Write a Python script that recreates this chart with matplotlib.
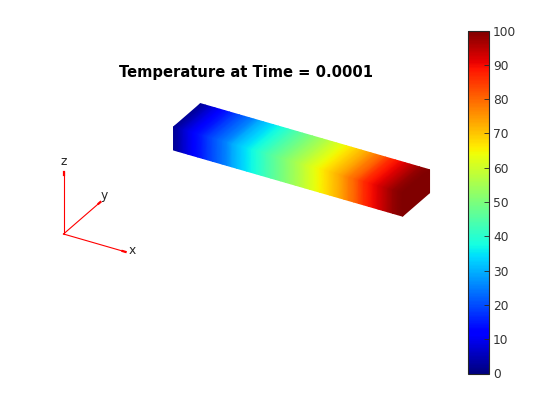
import numpy as np
import matplotlib
matplotlib.use("Agg")
import matplotlib.pyplot as plt
from mpl_toolkits.mplot3d import proj3d

# Temperature at evenly spaced stations
temperature = [2, 4, 7, 9, 12, 14, 16, 18, 20, 22, 24, 26, 29, 31, 33, 35, 37, 39, 41, 43,
               45, 47, 49, 51, 53, 55, 57, 59, 61, 63, 65, 67, 69, 71, 73, 75, 78, 80, 83,
               86, 88, 90, 92, 94, 96, 98, 99, 100]
cbar_ticks = [0, 10, 20, 30, 40, 50, 60, 70, 80, 90, 100]
title_text = "Temperature at Time = 0.0001"
axis_names = ["x", "y", "z"]

# Bar extents in the triad's units
BAR_X = (0.166, 3.745)
BAR_Y = (2.69, 3.42)
BAR_Z = (0.015, 0.375)

ELEV, AZIM = 30, -60
TARGET_ORIGIN = (63.5, 420 - 234.0)   # pixels from bottom-left
TARGET_Z_LEN = 64.0
TRIAD_TIPS = [0.97, 1.0, 0.97]

cmap = plt.get_cmap("jet", 256)
norm = matplotlib.colors.Normalize(0, 100)

fig = plt.figure(figsize=(5.6, 4.2), dpi=100)
pos0 = [-0.3, -0.4, 1.6, 1.8]
ax = fig.add_axes(pos0, projection="3d", proj_type="ortho")
ax.view_init(elev=ELEV, azim=AZIM)
ax.set_xlim(-2, 6); ax.set_ylim(-2, 6); ax.set_zlim(-4, 4)
ax.set_xticks([]); ax.set_yticks([]); ax.set_zticks([])
ax.set_axis_off()
ax.patch.set_alpha(0)

# Direction triad
for i, name in enumerate(axis_names):
    tip = np.zeros(3); tip[i] = TRIAD_TIPS[i]
    ax.plot(*[[0, v] for v in tip], color="red", lw=0.8)
    ax.plot(*[[0.95 * v, v] for v in tip], color="red", lw=1.6)

label_at = [(1.07, 0, 0.055), (0, 1.09, 0.055), (0, 0, 1.14)]
for name, p in zip(axis_names, label_at):
    ax.text(*p, name, fontsize=8.8, color="#262626", ha="center", va="center")

# Fit scale and position of the 3D axes to the reference pixels
def to_px(x, y, z):
    px, py, _ = proj3d.proj_transform(x, y, z, ax.get_proj())
    return ax.transData.transform(np.column_stack([np.ravel(px), np.ravel(py)]))

zoom = 1.0
for _ in range(3):
    ax.set_box_aspect((1, 1, 1), zoom=zoom)
    ax.apply_aspect()
    ln = np.hypot(*(to_px(0, 0, 1)[0] - to_px(0, 0, 0)[0]))
    zoom *= TARGET_Z_LEN / ln
ax.set_box_aspect((1, 1, 1), zoom=zoom)
ax.apply_aspect()
o = to_px(0, 0, 0)[0]
dx = (TARGET_ORIGIN[0] - o[0]) / 560
dy = (TARGET_ORIGIN[1] - o[1]) / 420
ax.set_position([pos0[0] + dx, pos0[1] + dy, pos0[2], pos0[3]])
ax.apply_aspect()

# Bar faces: projected through the 3D view, then shaded smoothly on a pixel-scaled overlay
overlay = fig.add_axes([0, 0, 1, 1])
overlay.set_xlim(0, 560); overlay.set_ylim(0, 420)
overlay.set_axis_off()
overlay.patch.set_alpha(0)

T = np.asarray(temperature, dtype=float)
xs = np.linspace(BAR_X[0], BAR_X[1], len(T))

def face(X, Y, Z, C):
    shape = X.shape
    p = to_px(X.ravel(), Y.ravel(), Z.ravel())
    overlay.pcolormesh(p[:, 0].reshape(shape), p[:, 1].reshape(shape), C,
                       shading="gouraud", cmap=cmap, norm=norm, antialiased=False)

C = np.vstack([T, T])
X, Y = np.meshgrid(xs, BAR_Y)
face(X, Y, np.full_like(X, BAR_Z[1]), C)
X, Z = np.meshgrid(xs, BAR_Z)
face(X, np.full_like(X, BAR_Y[0]), Z, C)
Y, Z = np.meshgrid(BAR_Y, BAR_Z)
face(np.full_like(Y, BAR_X[1]), Y, Z, np.full_like(Y, T[-1]))

# Colorbar
cax = fig.add_axes([467.5 / 560, 1 - 373.5 / 420, 21 / 560, 343 / 420])
sm = matplotlib.cm.ScalarMappable(norm=norm, cmap=cmap)
cb = fig.colorbar(sm, cax=cax, ticks=cbar_ticks)
cb.outline.set_edgecolor("#262626")
cb.outline.set_linewidth(0.8)
cax.tick_params(axis="y", direction="in", length=3.4, width=0.6, color="#262626",
                labelcolor="#333333", labelsize=8.8, pad=3.2, right=True, left=False)

fig.text(246 / 560, 1 - 72 / 420, title_text, ha="center", va="center",
         fontsize=10.6, fontweight="bold", color="black")

fig.savefig("out.png", dpi=100)
